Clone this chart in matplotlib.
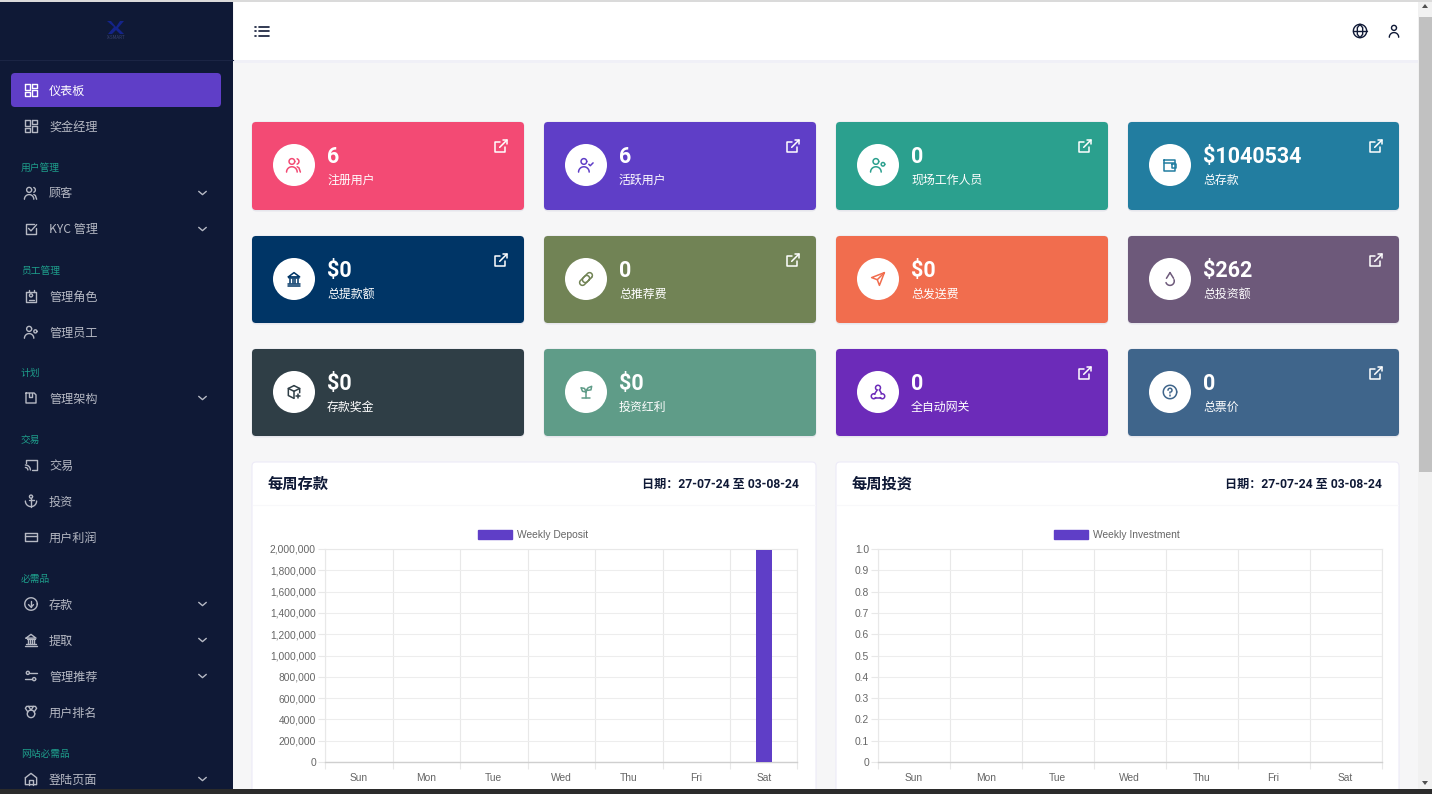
import numpy as np
import matplotlib
matplotlib.use('Agg')
import matplotlib.pyplot as plt
from matplotlib.patches import FancyBboxPatch, Rectangle, Circle, Patch, Polygon

plt.rcParams['font.family'] = ['Noto Sans CJK SC', 'DejaVu Sans']

W, H = 1432, 794

# ----- datos -----
days = ['Sun', 'Mon', 'Tue', 'Wed', 'Thu', 'Fri', 'Sat']
weekly_deposit = [0, 0, 0, 0, 0, 0, 1990000]
weekly_investment = [0, 0, 0, 0, 0, 0, 0]
deposit_ticks = [0, 200000, 400000, 600000, 800000, 1000000, 1200000, 1400000, 1600000, 1800000, 2000000]
investment_ticks = [0, 0.1, 0.2, 0.3, 0.4, 0.5, 0.6, 0.7, 0.8, 0.9, 1.0]
investment_tick_labels = ['0', '0.1', '0.2', '0.3', '0.4', '0.5', '0.6', '0.7', '0.8', '0.9', '1.0']

card_values = ['6', '6', '0', '$1040534', '$0', '0', '$0', '$262', '$0', '$0', '0', '0']
card_labels = ['注册用户', '活跃用户', '现场工作人员', '总存款',
               '总提款额', '总推荐费', '总发送费', '总投资额',
               '存款奖金', '投资红利', '全自动网关', '总票价']
card_colors = ['#F34A74', '#5F3EC7', '#2BA08E', '#227DA0',
               '#003566', '#718355', '#F16D4E', '#6D597A',
               '#2F3E46', '#5F9C88', '#6C2BB9', '#3F658B']
card_icons = ['users', 'usercheck', 'usergear', 'wallet',
              'bank', 'link', 'send', 'drop',
              'box', 'sprout', 'webhook', 'help']
card_link = [1, 1, 1, 1, 1, 1, 0, 1, 0, 0, 1, 1]

menu_items = [
    ('item', '仪表板', 'grid', 0), ('item', '奖金经理', 'grid', 0),
    ('head', '用户管理', '', 0), ('item', '顾客', 'users', 1), ('item', 'KYC 管理', 'check', 1),
    ('head', '员工管理', '', 0), ('item', '管理角色', 'badge', 0), ('item', '管理员工', 'usergear', 0),
    ('head', '计划', '', 0), ('item', '管理架构', 'save', 1),
    ('head', '交易', '', 0), ('item', '交易', 'cast', 0), ('item', '投资', 'anchor', 0), ('item', '用户利润', 'card', 0),
    ('head', '必需品', '', 0), ('item', '存款', 'down', 1), ('item', '提取', 'bank', 1),
    ('item', '管理推荐', 'sliders', 1), ('item', '用户排名', 'medal', 0),
    ('head', '网站必需品', '', 0), ('item', '登陆页面', 'home', 1),
]
menu_y = [90, 126, 167, 193, 229, 270, 296, 332, 372, 398, 439, 465, 501, 537, 578, 604, 640, 676, 712, 753, 779]


def arc(x, y, r, a=0, b=360):
    t = np.radians(np.linspace(a, b, 30))
    return np.column_stack([x + r*np.cos(t), y - r*np.sin(t)])


def box(x, y, w, h):
    return [(x, y), (x+w, y), (x+w, y+h), (x, y+h), (x, y)]


def capsule(x0, y0, x1, y1, r):
    # eslabon diagonal para el icono de enlace
    a = arc(x0, y0, r, -45, 135)
    b = arc(x1, y1, r, 135, 315)
    return np.vstack([a, b, a[:1]])


# iconos en una grilla de 24x24
ICONS = {
    'grid': [box(3, 3, 8, 9), box(14, 3, 8, 6), box(14, 12, 8, 9), box(3, 15, 8, 6)],
    'users': [arc(9, 7, 4), arc(9, 22, 7.5, 0, 180), arc(15, 7, 4, -70, 70), [(16.5, 14.5), (19, 16), (21, 22)]],
    'usercheck': [arc(9, 7, 4), arc(9, 22, 7.5, 0, 180), [(16, 11), (18, 13), (22, 9)]],
    'usergear': [arc(9, 7, 4), arc(9, 22, 7.5, 0, 180), arc(19, 11, 2.5)],
    'wallet': [box(4, 5, 15, 15), [(4, 9), (19, 9)], box(15, 11, 6, 5)],
    'bank': [[(4, 9), (12, 3), (20, 9), (4, 9)], [(5, 11), (19, 11)], [(7, 12), (7, 18)], [(10.5, 12), (10.5, 18)],
             [(13.5, 12), (13.5, 18)], [(17, 12), (17, 18)], [(4, 19), (20, 19)], [(3, 21.5), (21, 21.5)]],
    'link': [capsule(17, 7, 11, 13, 4), capsule(13, 11, 7, 17, 4)],
    'send': [[(21, 3), (3, 10), (11, 13), (14, 21), (21, 3)], [(11, 13), (21, 3)]],
    'drop': [[(12, 3), (7, 11)], [(12, 3), (17, 11)], arc(12, 15, 6, -160, 20)],
    'box': [[(12, 3), (20, 7), (20, 13)], [(12, 3), (4, 7), (4, 17), (12, 21)], [(4, 7), (12, 11), (20, 7)], [(12, 11), (12, 21)],
            [(15, 18), (21, 18)], [(18, 15), (18, 21)]],
    'sprout': [[(12, 21), (12, 10)], [(7, 21), (17, 21)], [(12, 12), (7, 11), (5, 6), (10, 7), (12, 12)], [(12, 10), (15, 6), (20, 4), (19, 9), (12, 10)]],
    'webhook': [arc(12, 6, 3.5, -60, 240), arc(6, 18, 3.5, 60, 330), arc(18, 18, 3.5, -150, 120), [(11, 9), (7, 15)], [(14, 9), (17, 14)], [(8, 21), (16, 21)]],
    'help': [arc(12, 12, 9.5), arc(12, 9.5, 2.8, -60, 180), [(12, 12.5), (12, 14)], [(12, 16.5), (12, 17)]],
    'check': [[(20, 11), (20, 20), (4, 20), (4, 4), (16, 4)], [(8, 11), (12, 15), (21, 5)]],
    'badge': [box(4, 5, 16, 17), [(8, 3), (8, 6)], [(16, 3), (16, 6)], arc(12, 11, 2.5), [(8, 18), (16, 18)]],
    'save': [[(4, 4), (17, 4), (20, 7), (20, 20), (4, 20), (4, 4)], [(8, 4), (8, 11), (14, 11), (14, 4)]],
    'cast': [[(4, 8), (4, 4), (21, 4), (21, 20), (13, 20)], arc(3, 20, 4, 0, 90), arc(3, 20, 8, 0, 90)],
    'anchor': [arc(12, 5, 2.5), [(12, 7.5), (12, 21)], [(8, 11), (16, 11)], arc(12, 12, 9, 180, 360)],
    'card': [box(3, 5, 18, 14), [(3, 10), (21, 10)]],
    'down': [arc(12, 12, 10), [(12, 7), (12, 17)], [(8, 13), (12, 17), (16, 13)]],
    'sliders': [arc(7, 7, 2.5), [(10, 7), (21, 7)], arc(17, 17, 2.5), [(3, 17), (14, 17)]],
    'medal': [arc(12, 15, 6), [(7, 12), (3, 6), (5, 3), (19, 3), (21, 6), (17, 12)], [(8, 3), (12, 9), (16, 3)]],
    'home': [[(3, 10), (12, 3), (21, 10), (21, 21), (3, 21), (3, 10)], [(9, 21), (9, 14), (15, 14), (15, 21)]],
    'chev': [[(5, 9), (12, 15), (19, 9)]],
    'ext': [[(18, 13), (18, 21), (3, 21), (3, 6), (11, 6)], [(10, 14), (21, 3)], [(15, 3), (21, 3), (21, 9)]],
    'list': [[(8, 6), (21, 6)], [(8, 12), (21, 12)], [(8, 18), (21, 18)], [(3, 6), (4, 6)], [(3, 12), (4, 12)], [(3, 18), (4, 18)]],
    'globe': [arc(12, 12, 10), [(2, 12), (22, 12)], [(12, 2), (8, 7), (8, 17), (12, 22), (16, 17), (16, 7), (12, 2)]],
    'user': [arc(12, 7, 4), arc(12, 22, 7.5, 0, 180)],
}


def icon(ax, name, cx, cy, size, color, lw=1.1, zorder=5):
    k = size / 24
    for seg in ICONS[name]:
        p = np.asarray(seg, dtype=float)
        ax.plot(cx + (p[:, 0]-12)*k, cy + (p[:, 1]-12)*k, color=color, lw=lw,
                solid_capstyle='round', solid_joinstyle='round', zorder=zorder)


def rbox(ax, x0, y0, x1, y1, color, r=4, ec='none', lw=0, zorder=2):
    ax.add_patch(FancyBboxPatch((x0, y0), x1-x0, y1-y0, boxstyle=f'round,pad=0,rounding_size={r}',
                                fc=color, ec=ec, lw=lw, zorder=zorder))


fig = plt.figure(figsize=(W/100, H/100), dpi=100, facecolor='#F6F6F7')
ui = fig.add_axes([0, 0, 1, 1])
ui.set_xlim(0, W)
ui.set_ylim(H, 0)
ui.axis('off')

# barra superior
ui.add_patch(Rectangle((234, 60), 1184, 3, fc='#F0F0F7', ec='none', zorder=1))
ui.add_patch(Rectangle((234, 1), 1184, 59, fc='white', ec='none', zorder=1))
icon(ui, 'list', 262, 31, 18, '#0F1936', 1.2)
icon(ui, 'globe', 1360, 31, 16, '#0F1936', 1.0)
icon(ui, 'user', 1394, 31, 15, '#0F1936', 1.0)

# menu lateral
ui.add_patch(Rectangle((0, 1), 233, H, fc='#0F1936', ec='none', zorder=1))
ui.plot([0, 233], [60, 60], color='#1B2544', lw=0.8, zorder=2)
ui.add_patch(Polygon([(107, 21), (111, 21), (116, 27), (120, 21), (124, 21), (118, 28), (124, 34), (120, 34), (116, 30), (112, 34), (108, 34), (114, 27)],
                     fc='#14248A', ec='none', zorder=3))
ui.text(116.5, 37.5, 'X-SMART', fontsize=3.2, color='#3A4470', ha='center', va='center', zorder=3)
rbox(ui, 11, 73, 221, 107, '#5F3EC7', r=4)
for (kind, txt, ic, chev), y in zip(menu_items, menu_y):
    if kind == 'head':
        ui.text(21, y+1, txt, fontsize=7, color='#1E9F8C', va='center', zorder=4, weight='medium')
        continue
    active = txt == '仪表板'
    col = 'white' if active else '#B6B9C4'
    icon(ui, ic, 31, y, 15, col, 1.0)
    ui.text(49, y+1, txt, fontsize=8.7, color=col, va='center', zorder=4,
            family=['Noto Sans CJK SC', 'Liberation Sans'])
    if chev:
        icon(ui, 'chev', 202.5, y, 13, col, 1.0)

# tarjetas
col_x = [(252, 524), (544, 816), (836, 1108), (1128, 1399)]
row_y = [(122, 210), (236, 323), (349, 436)]
for i in range(12):
    x0, x1 = col_x[i % 4]
    y0, y1 = row_y[i // 4]
    c = card_colors[i]
    rbox(ui, x0-0.5, y0-0.5, x1+0.5, y1+1.5, '#E6E6EC', r=5, zorder=1.5)
    rbox(ui, x0, y0, x1, y1, c)
    cy = y0 + 43
    ui.add_patch(Circle((x0+42, cy), 21, fc='white', ec='none', zorder=3))
    icon(ui, card_icons[i], x0+42, cy, 17, c, 1.1)
    ui.text(x0+75.5, y0+35, card_values[i], fontsize=15.5, color='white', weight='bold', va='center', zorder=4,
            family=['Roboto', 'DejaVu Sans'])
    ui.text(x0+75, y0+58, card_labels[i], fontsize=8.6, color='white', va='center', zorder=4)
    if card_link[i]:
        icon(ui, 'ext', x1-23, y0+24, 16, 'white', 1.1)


# graficos
def weekly_chart(x0, x1, ax_x0, ax_x1, title, legend_label, values, ticks, tick_labels):
    rbox(ui, x0, 462, x1, 800, 'white', r=4, ec='#EDEBF7', lw=0.8)
    ui.plot([x0+1, x1-1], [505, 505], color='#F8F8FA', lw=0.8, zorder=3)
    ui.text(x0+16, 484, title, fontsize=11, color='#0F1936', weight='bold', va='center', zorder=4)
    ui.text(x1-17.5, 484, '日期：27-07-24 至 03-08-24', fontsize=8.7, color='#0F1936', weight='bold',
            va='center', ha='right', zorder=4, family=['Roboto', 'Noto Sans CJK SC'])

    ax = fig.add_axes([ax_x0/W, 1-762/H, (ax_x1-ax_x0)/W, (762-549)/H])
    ax.patch.set_alpha(0)
    ax.bar(range(len(days)), values, width=0.235, color='#5F3EC7', zorder=3)
    ax.set_xlim(-0.5, 6.5)
    ax.set_ylim(0, ticks[-1])
    ax.set_yticks(ticks, tick_labels)
    ax.set_xticks(range(7), days)
    ax.set_xticks(np.arange(-0.5, 7), minor=True)
    ax.tick_params(axis='x', which='major', length=0, pad=8)
    ax.tick_params(axis='x', which='minor', length=5, color='#E8E8E8', width=0.8)
    ax.tick_params(axis='y', length=5, color='#E8E8E8', width=0.8, pad=1.5)
    ax.tick_params(labelsize=7.4, labelcolor='#666666')
    for lab in ax.get_xticklabels() + ax.get_yticklabels():
        lab.set_family(['Liberation Sans', 'DejaVu Sans'])
    ax.grid(True, axis='y', color='#EDEDED', lw=0.8, zorder=0)
    ax.grid(True, axis='x', which='minor', color='#E8E8E8', lw=0.8, zorder=0)
    ax.grid(False, axis='x', which='major')
    for s in ['top', 'right', 'left']:
        ax.spines[s].set_color('#E8E8E8')
        ax.spines[s].set_linewidth(0.8)
    ax.spines['bottom'].set_color('#CFCFCF')
    ax.spines['bottom'].set_linewidth(1.0)
    # la leyenda va centrada en el canvas, no en el eje
    center = ((x0+16 + x1-18)/2 - ax_x0) / (ax_x1-ax_x0)
    ax.legend(handles=[Patch(fc='#5F3EC7', ec='#5F3EC7', label=legend_label)], loc='lower center',
              bbox_to_anchor=(center, 1.032), frameon=False, handlelength=3.3, handleheight=0.95,
              handletextpad=0.5, borderpad=0.2, borderaxespad=0,
              prop={'family': ['Liberation Sans', 'DejaVu Sans'], 'size': 7.4}, labelcolor='#666666')
    return ax


deposit_labels = [f'{v:,}' for v in deposit_ticks]
weekly_chart(252, 816, 325, 797.5, '每周存款', 'Weekly Deposit', weekly_deposit, deposit_ticks, deposit_labels)
weekly_chart(836, 1399, 878, 1381.5, '每周投资', 'Weekly Investment', weekly_investment, investment_ticks, investment_tick_labels)

# barra de scroll y borde inferior
cover = fig.add_axes([0, 0, 1, 1], zorder=10)
cover.set_xlim(0, W)
cover.set_ylim(H, 0)
cover.axis('off')
cover.add_patch(Rectangle((1418, 0), 14, H, fc='#F1F1F1', ec='none'))
cover.add_patch(Rectangle((1419, 17), 13, 455, fc='#C1C1C1', ec='none'))
cover.add_patch(Polygon([(1422, 8), (1428, 8), (1425, 4)], fc='#505050', ec='none'))
cover.add_patch(Polygon([(1422, 781), (1428, 781), (1425, 785)], fc='#505050', ec='none'))
cover.add_patch(Rectangle((0, 789), W, 5, fc='#2B2B2B', ec='none'))
cover.add_patch(Rectangle((0, 0), W, 1.5, fc='#DADADA', ec='none'))

fig.savefig('out.png', dpi=100, facecolor=fig.get_facecolor())
